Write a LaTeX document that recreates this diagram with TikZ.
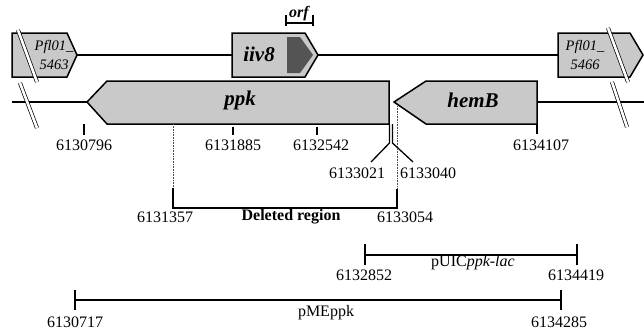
\documentclass[tikz,border=0pt]{standalone}
\usepackage{fontspec}
\setmainfont{Liberation Serif}
\begin{document}
\begin{tikzpicture}[x=1pt,y=-1pt,
  gene/.style={draw=black,line width=1.5pt,fill=genegray,line join=miter},
  bb/.style={line width=1.5pt},
  tick/.style={line width=1.5pt},
  brk/.style={draw=black,line width=0.7pt,double=white,double distance=2.6pt},
  num/.style={font=\fontsize{16}{18}\selectfont,inner sep=0pt},
  gname/.style={font=\fontsize{21}{24}\selectfont\bfseries\itshape,inner sep=0pt},
  pfl/.style={font=\fontsize{14.5}{19.5}\selectfont\itshape,align=center,inner sep=0pt},
  dot/.style={line width=0.6pt,densely dotted,draw=black!70}
]
\definecolor{genegray}{gray}{0.79}
\definecolor{orfgray}{gray}{0.33}
\useasboundingbox (0,0) rectangle (644,330);
% backbone coordinates
\coordinate (t0) at (77,55);
\coordinate (t1) at (232,55);
\coordinate (t2) at (318,55);
\coordinate (t3) at (558,55);
\coordinate (b0) at (12,102);
\coordinate (b1) at (87,102);
\coordinate (b2) at (537,102);
\coordinate (b3) at (644,102);
\draw[bb] (t0) -- (t1);
\draw[bb] (t2) -- (t3);
\draw[bb] (b0) -- (b1);
\draw[bb] (b2) -- (b3);
% genes
\draw[gene] (12,33) -- (67,33) -- (77,55) -- (67,77) -- (12,77) -- cycle;
\draw[gene] (558,33) -- (630,33) -- (643,55) -- (630,77) -- (558,77) -- cycle;
\draw[gene] (232,33) -- (305,33) -- (318,55) -- (305,77) -- (232,77) -- cycle;
\fill[orfgray] (287,37) -- (300,37) -- (313,55) -- (300,73) -- (287,73) -- cycle;
\draw[gene] (389,81) -- (107,81) -- (87,102) -- (107,124) -- (389,124) -- cycle;
\draw[gene] (537,81) -- (426,81) -- (394,102) -- (426,124) -- (537,124) -- cycle;
% break marks
\draw[brk] (18,30) -- (37,82);
\draw[brk] (20,83) -- (37,128);
\draw[brk] (608,28) -- (628,82);
\draw[brk] (612,82) -- (627,127);
% gene names
\node[pfl] (n5463) at (54,55) {Pfl01\_\\5463};
\node[pfl] (n5466) at (585,55) {Pfl01\_\\5466};
\node[gname] (niiv) at (259,54) {iiv8};
\node[gname] (nppk) at (240,100) {ppk};
\node[gname] (nhem) at (473,100) {hemB};
% orf bracket
\coordinate (o1) at (286,23);
\coordinate (o2) at (313,23);
\draw[tick] (o1) -- (o2);
\draw[tick] ([yshift=-3]o1) -- ([yshift=8]o1);
\draw[tick] ([yshift=-3]o2) -- ([yshift=8]o2);
\node[font=\fontsize{16}{18}\selectfont\bfseries\itshape,inner sep=0pt] (norf) at (299,14) {orf};
% position ticks
\draw[tick] (84,124) -- (84,135);
\draw[tick] (233,127) -- (233,135);
\draw[tick] (317,127) -- (317,135);
\draw[tick] (537,124) -- (537,134);
\node[num] (p796) at (84,145) {6130796};
\node[num] (p885) at (233,145) {6131885};
\node[num] (p542) at (321,145) {6132542};
\node[num] (p107) at (541,145) {6134107};
% junction marks
\draw[line width=1.3pt] (389.5,124) -- (389.5,143) -- (371,162);
\draw[line width=1.3pt] (392.5,124) -- (392.5,143) -- (413,162);
\node[num] (p021) at (357,173) {6133021};
\node[num] (p040) at (428,173) {6133040};
% deleted region
\draw[dot] (173,124) -- (173,189);
\draw[dot] (397,106) -- (397,190);
\draw[tick,line join=miter] (173,188) -- (173,208) -- (397,208) -- (397,189);
\node[num] (p357) at (165,217) {6131357};
\node[num,font=\fontsize{16}{18}\selectfont\bfseries] (ndel) at (291,217) {Deleted region};
\node[num] (p054) at (405,217) {6133054};
% pUICppk-lac
\draw[tick] (365,255) -- (577,255);
\draw[tick] (365,244) -- (365,265);
\draw[tick] (577,244) -- (577,265);
\node[num] (nuic) at (473,263) {pUIC\textit{ppk-lac}};
\node[num] (p852) at (364,275) {6132852};
\node[num] (p419) at (576,275) {6134419};
% pMEppk
\draw[tick] (75,300) -- (561,300);
\draw[tick] (75,290) -- (75,310);
\draw[tick] (561,290) -- (561,310);
\node[num] (nme) at (326,313) {pMEppk};
\node[num] (p717) at (75,322) {6130717};
\node[num] (p285) at (559,322) {6134285};
\end{tikzpicture}
\end{document}
